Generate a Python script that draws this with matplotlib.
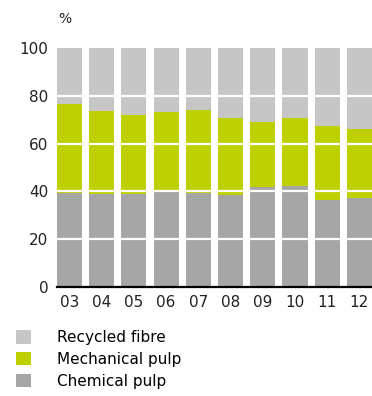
import numpy as np
from matplotlib import pyplot as plt

years = ['03', '04', '05', '06', '07', '08', '09', '10', '11', '12']
chemical = [39.5, 39.1, 39.1, 39.6, 39.5, 38.4, 41.7, 42.3, 36.4, 37.2]
mech_top = [76.6, 73.5, 71.8, 73.1, 74.1, 70.7, 69.0, 70.7, 67.4, 66.1]
mechanical = [m - c for m, c in zip(mech_top, chemical)]
recycled = [100 - m for m in mech_top]

c_chem = '#a6a6a6'
c_mech = '#bed000'
c_rec = '#c6c6c6'

plt.rcParams['font.family'] = ['DejaVu Sans']
fig = plt.figure(figsize=(3.72, 3.96), dpi=100)
ax = fig.add_axes([0.153, 0.275, 0.847, 0.604])

x = np.arange(len(years))
w = 0.78
b1 = ax.bar(x, chemical, w, color=c_chem, label='Chemical pulp', zorder=1)
b2 = ax.bar(x, mechanical, w, bottom=chemical, color=c_mech, label='Mechanical pulp', zorder=1)
b3 = ax.bar(x, recycled, w, bottom=mech_top, color=c_rec, label='Recycled fibre', zorder=1)

for yv in [20, 40, 60, 80]:
    ax.axhline(yv, color='white', lw=1.6, zorder=2)

ax.set_xlim(-0.39, 9.39)
ax.set_ylim(0, 100)
ax.set_yticks([0, 20, 40, 60, 80, 100])
ax.set_xticks(x)
ax.set_xticklabels(years)
ax.tick_params(length=0, labelsize=11, colors='#222222', pad=6)
ax.tick_params(axis='y', pad=6)
for s in ['top', 'right', 'left']:
    ax.spines[s].set_visible(False)
ax.spines['bottom'].set_linewidth(1.6)
ax.spines['bottom'].set_color('black')
ax.spines['bottom'].set_zorder(3)

fig.text(0.156, 0.952, '%', fontsize=10, color='#222222', ha='left', va='center')

ax.legend([b3, b2, b1], ['Recycled fibre', 'Mechanical pulp', 'Chemical pulp'],
          loc='upper left', bbox_to_anchor=(0.043, 0.167), bbox_transform=fig.transFigure,
          frameon=False, fontsize=11, handlelength=1.0, handleheight=1.0,
          handletextpad=1.7, labelspacing=0.45, borderpad=0, borderaxespad=0)

plt.savefig('out.png', dpi=100)
